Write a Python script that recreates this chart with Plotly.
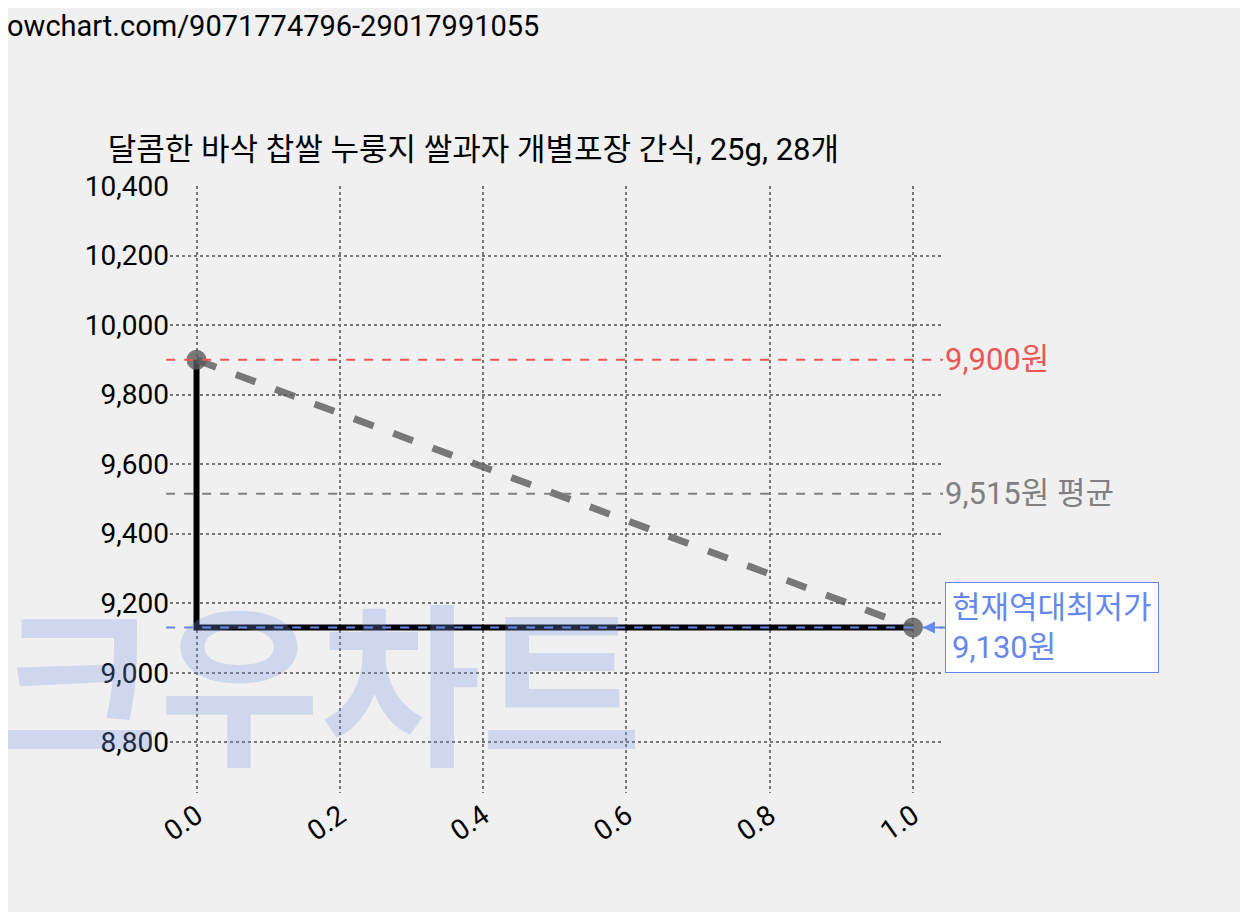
import plotly.graph_objects as go

xs = [0.0, 1.0]
prices = [9900, 9130]
step_x = [0, 0, 1]
step_y = [9900, 9130, 9130]
max_price = 9900
avg_price = 9515
min_price = 9130
title = "달콤한 바삭 찹쌀 누룽지 쌀과자 개별포장 간식, 25g, 28개"
yticks = [8800, 9000, 9200, 9400, 9600, 9800, 10000, 10200, 10400]
xticks = [0.0, 0.2, 0.4, 0.6, 0.8, 1.0]

F = "Roboto, Noto Sans CJK KR"
fig = go.Figure()
fig.add_trace(go.Scatter(x=step_x, y=step_y, mode="lines", line=dict(color="black", width=6), hoverinfo="skip"))
fig.add_trace(go.Scatter(x=xs, y=prices, mode="lines+markers", line=dict(color="rgba(90,90,90,0.8)", width=7, dash="dash"),
                         marker=dict(size=20, color="rgba(90,90,90,0.8)")))
for v, c in [(max_price, "#ee5555"), (avg_price, "#808080"), (min_price, "#6688ee")]:
    fig.add_shape(type="line", xref="paper", x0=-0.005, x1=1.0, y0=v, y1=v,
                  line=dict(color=c, width=2, dash="dash"))
fig.add_annotation(xref="paper", x=1.0, y=max_price, text="9,900원", showarrow=False, xanchor="left",
                   font=dict(family=F, size=31, color="#ee5555"))
fig.add_annotation(xref="paper", x=1.0, y=avg_price, text="9,515원 평균", showarrow=False, xanchor="left",
                   font=dict(family=F, size=31, color="#808080"))
fig.add_annotation(x=1.0, y=min_price, ax=32, ay=0, text="현재역대최저가<br>9,130원", showarrow=True,
                   arrowhead=2, arrowsize=1.2, arrowcolor="#6688ee", arrowwidth=2, standoff=10,
                   xanchor="left", align="left",
                   bordercolor="#6688ee", borderwidth=1, borderpad=6, bgcolor="white",
                   font=dict(family=F, size=31, color="#6688ee"))
fig.add_annotation(xref="paper", yref="paper", x=-0.225, y=0.165, yanchor="middle", text="<b>크우차트</b>",
                   showarrow=False, xanchor="left",
                   font=dict(family=F, size=175, weight=900, color="rgba(120,150,230,0.28)"))
fig.add_annotation(xref="paper", yref="paper", x=-0.222, y=1.295, text="lowchart.com/9071774796-29017991055",
                   showarrow=False, xanchor="left", font=dict(family=F, size=29, color="black"))
fig.update_layout(
    width=1248, height=912, paper_bgcolor="#f0f0f0", plot_bgcolor="#f0f0f0", showlegend=False,
    margin=dict(l=162, r=313, t=178, b=127),
    title=dict(text=title, x=0.08, xanchor="left", yref="container", y=0.845, yanchor="middle",
               font=dict(family=F, size=31, color="black")),
    xaxis=dict(range=[-0.037, 1.042], tickvals=xticks, ticktext=[f"{t:.1f}" for t in xticks], tickangle=-35,
               showgrid=True, gridcolor="#777", griddash="dot", gridwidth=2, zeroline=False, ticks="",
               tickfont=dict(family=F, size=28, color="black")),
    yaxis=dict(range=[8654, 10400], tickvals=yticks, ticktext=[f"{t:,}" for t in yticks],
               showgrid=True, gridcolor="#777", griddash="dot", gridwidth=2, zeroline=False, ticks="",
               tickfont=dict(family=F, size=28, color="black")),
)
fig.write_html("out.html")
